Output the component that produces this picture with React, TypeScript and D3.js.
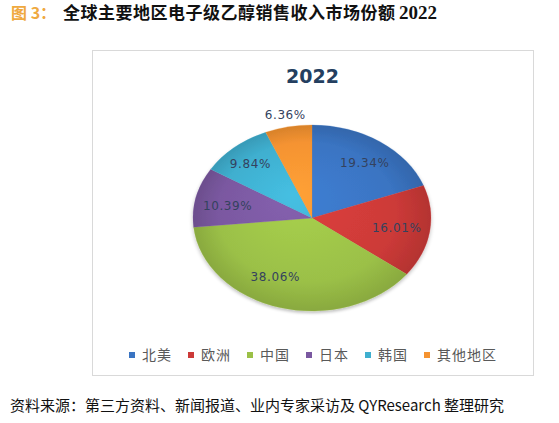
import React from "react";
import * as d3 from "d3";

const categories = ["北美", "欧洲", "中国", "日本", "韩国", "其他地区"];
const shares = [19.34, 16.01, 38.06, 10.39, 9.84, 6.36];
const colors = ["#3A74C2", "#CC3A38", "#9BC047", "#7A58A0", "#3FAFCF", "#F59331"];
const chartYear = "2022";
const figTitlePrefix = "图 3：";
const figTitle = "全球主要地区电子级乙醇销售收入市场份额";
const figTitleYear = "2022";
const sourceNote = "资料来源：第三方资料、新闻报道、业内专家采访及 QYResearch 整理研究";

// label placement (radius factor relative to ellipse, angle offset in degrees)
const labelRadius = [0.74, 0.72, 0.71, 0.72, 0.78, 1.13];
const labelAngleShift = [2, 0, 10, -3, -1, 0];

const W = 559;
const H = 423;
const cx = 312;
const cy = 218;
const rx = 119;
const ry = 93;

export default function App() {
  const pie = d3.pie<number>().sort(null).value((d) => d)(shares);
  const arc = d3.arc<d3.PieArcDatum<number>>().innerRadius(0).outerRadius(rx);
  const sy = ry / rx;

  // legend layout
  const fs = 14;
  const charW = fs + 1;
  const sq = 6;
  const itemWidths = categories.map((c) => sq + 7 + c.length * charW + 16);
  const totalW = d3.sum(itemWidths) - 16;
  let lx = 313 - totalW / 2;
  const legendX = itemWidths.map((w) => {
    const x = lx;
    lx += w;
    return x;
  });

  return (
    <svg width={W} height={H} style={{ position: "absolute", left: 0, top: 0, background: "#fff" }}>
      <defs>
        {colors.map((c, i) => (
          <radialGradient key={i} id={`g${i}`} gradientUnits="userSpaceOnUse" cx={0} cy={0} r={rx} fx={-20} fy={-30}>
            <stop offset="0%" stopColor={d3.color(c)!.brighter(0.25).formatHex()} />
            <stop offset="75%" stopColor={c} />
            <stop offset="100%" stopColor={d3.color(c)!.darker(0.35).formatHex()} />
          </radialGradient>
        ))}
        <filter id="sh" x="-10%" y="-10%" width="120%" height="130%">
          <feGaussianBlur in="SourceAlpha" stdDeviation="2" />
          <feOffset dx="0" dy="2" result="b" />
          <feComponentTransfer>
            <feFuncA type="linear" slope="0.25" />
          </feComponentTransfer>
          <feMerge>
            <feMergeNode />
            <feMergeNode in="SourceGraphic" />
          </feMerge>
        </filter>
      </defs>

      <text x={11} y={19} fontFamily="'Noto Sans CJK SC'" fontWeight="bold" fontSize={16} fill="#EFA93F">
        {figTitlePrefix}
      </text>
      <text x={63} y={19} fontFamily="'Noto Sans CJK SC'" fontWeight="bold" fontSize={17} letterSpacing={0.5} fill="#111">
        {figTitle}
      </text>
      <text x={399} y={19} fontFamily="'Liberation Serif'" fontWeight="bold" fontSize={19} fill="#111">
        {figTitleYear}
      </text>

      <rect x={92.5} y={50.5} width={441} height={325} fill="#fff" stroke="#D9D9D9" strokeWidth={1} />

      <text x={312.5} y={83} textAnchor="middle" fontFamily="'DejaVu Sans'" fontWeight="bold" fontSize={19} fill="#243F60">
        {chartYear}
      </text>

      <g transform={`translate(${cx},${cy}) scale(1,${sy})`} filter="url(#sh)">
        {pie.map((d, i) => (
          <path key={i} d={arc(d) || ""} fill={`url(#g${i})`} stroke={colors[i]} strokeWidth={0.3} />
        ))}
      </g>

      {pie.map((d, i) => {
        const a = (d.startAngle + d.endAngle) / 2 + (labelAngleShift[i] * Math.PI) / 180;
        const r = labelRadius[i];
        const x = cx + rx * r * Math.sin(a);
        const y = cy - ry * r * Math.cos(a);
        return (
          <text
            key={i}
            x={x}
            y={y + 4}
            textAnchor="middle"
            fontFamily="'DejaVu Sans'"
            fontSize={12}
            letterSpacing={0.6}
            fill="#34425E"
          >
            {shares[i].toFixed(2)}%
          </text>
        );
      })}

      {categories.map((c, i) => (
        <g key={c} transform={`translate(${legendX[i]},355)`}>
          <rect x={0} y={-3} width={sq} height={sq} fill={colors[i]} />
          <text x={sq + 7} y={5} fontFamily="'Noto Sans CJK SC'" fontSize={fs} letterSpacing={1} fill="#595959">
            {c}
          </text>
        </g>
      ))}

      <text x={10} y={411} fontFamily="'Noto Sans CJK SC'" fontSize={15} fill="#111">
        {sourceNote}
      </text>
    </svg>
  );
}
